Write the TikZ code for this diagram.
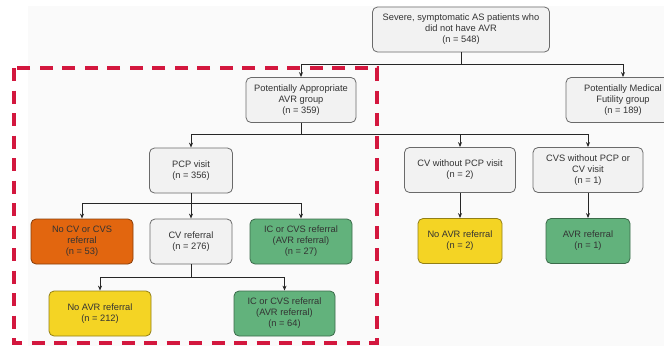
\documentclass[tikz,border=0pt]{standalone}
\usepackage{xcolor}
\usepackage{fontspec}
\setmainfont{Liberation Sans}
\usetikzlibrary{arrows.meta}

\definecolor{bggray}{HTML}{FAFAFA}
\definecolor{boxgray}{HTML}{F2F2F2}
\definecolor{edgegray}{HTML}{6A6A6A}
\definecolor{linegray}{HTML}{262626}
\definecolor{txtgray}{HTML}{333333}
\definecolor{orangebox}{HTML}{E2660F}
\definecolor{yellowbox}{HTML}{F4D424}
\definecolor{greenbox}{HTML}{62B27C}
\definecolor{frame}{HTML}{D3173E}

\tikzset{
  box/.style={draw=edgegray, line width=0.8pt, rounded corners=5pt, fill=boxgray,
    minimum height=45pt, align=center, text=txtgray, inner sep=2pt,
    font=\fontsize{9.3}{11}\selectfont},
  orangecell/.style={box, fill=orangebox, draw=orangebox!60!black},
  yellowcell/.style={box, fill=yellowbox, draw=yellowbox!60!black},
  greencell/.style={box, fill=greenbox, draw=greenbox!60!black},
  arr/.style={line width=1pt, draw=linegray, -{Stealth[length=5pt,width=4pt]}},
  redframe/.style={draw=frame, line width=3.3pt, dash pattern=on 13pt off 9.5pt}
}

\begin{document}
\begin{tikzpicture}[x=1pt, y=-1pt]
	\useasboundingbox (0,0) rectangle (664,346);
	\clip (0,0) rectangle (664,346);
	\fill [bggray] (28,6) rectangle (664,346);
	
	% first level
	\node [box, minimum width=177pt] (top) at (461,29.5) {Severe, symptomatic AS patients who\\did not have AVR\\(n = 548)};
	
	\node [box, minimum width=110pt] (appr) at (301,100) {Potentially Appropriate\\AVR group\\(n = 359)};
	\node [box, minimum width=114pt] (futil) at (623,100) {Potentially Medical\\Futility group\\(n = 189)};
	
	% second level
	\node [box, minimum width=83pt] (pcp) at (191,170.5) {PCP visit\\(n = 356)};
	\node [box, minimum width=111pt] (cvnopcp) at (460,170) {CV without PCP visit\\(n = 2)};
	\node [box, minimum width=110pt] (cvsnopcp) at (588,170) {CVS without PCP or\\CV visit\\(n = 1)};
	
	% third level
	\node [orangecell, minimum width=102pt] (nocv) at (82,241.5) {No CV or CVS\\referral\\(n = 53)};
	\node [box, minimum width=82pt] (cvref) at (191,241.5) {CV referral\\(n = 276)};
	\node [greencell, minimum width=102pt] (icone) at (301,241.5) {IC or CVS referral\\(AVR referral)\\(n = 27)};
	
	\node [yellowcell, minimum width=84pt] (noavrtwo) at (460,241) {No AVR referral\\(n = 2)};
	\node [greencell, minimum width=84pt] (avrone) at (588,241) {AVR referral\\(n = 1)};
	
	% fourth level
	\node [yellowcell, minimum width=102pt] (noavr) at (100,313.5) {No AVR referral\\(n = 212)};
	\node [greencell, minimum width=101pt] (ictwo) at (284.5,313.5) {IC or CVS referral\\(AVR referral)\\(n = 64)};
	
	% connectors
	\draw [arr] (top.south) -- ++(0,12) -| (appr.north);
	\draw [arr] (top.south) -- ++(0,12) -| (futil.north);
	
	\draw [arr] (appr.south) -- ++(0,12) -| (pcp.north);
	\draw [arr] (appr.south) -- ++(0,12) -| (cvnopcp.north);
	\draw [arr] (appr.south) -- ++(0,12) -| (cvsnopcp.north);
	
	\draw [arr] (pcp.south) -- ++(0,10) -| (nocv.north);
	\draw [arr] (pcp.south) -- (cvref.north);
	\draw [arr] (pcp.south) -- ++(0,10) -| (icone.north);
	
	\draw [arr] (cvref.south) -- ++(0,13) -| (noavr.north);
	\draw [arr] (cvref.south) -- ++(0,13) -| (ictwo.north);
	
	\draw [arr] (cvnopcp.south) -- (noavrtwo.north);
	\draw [arr] (cvsnopcp.south) -- (avrone.north);
	
	% highlighted region
	\draw [redframe] (14,68) rectangle (377,343);
\end{tikzpicture}
\end{document}
